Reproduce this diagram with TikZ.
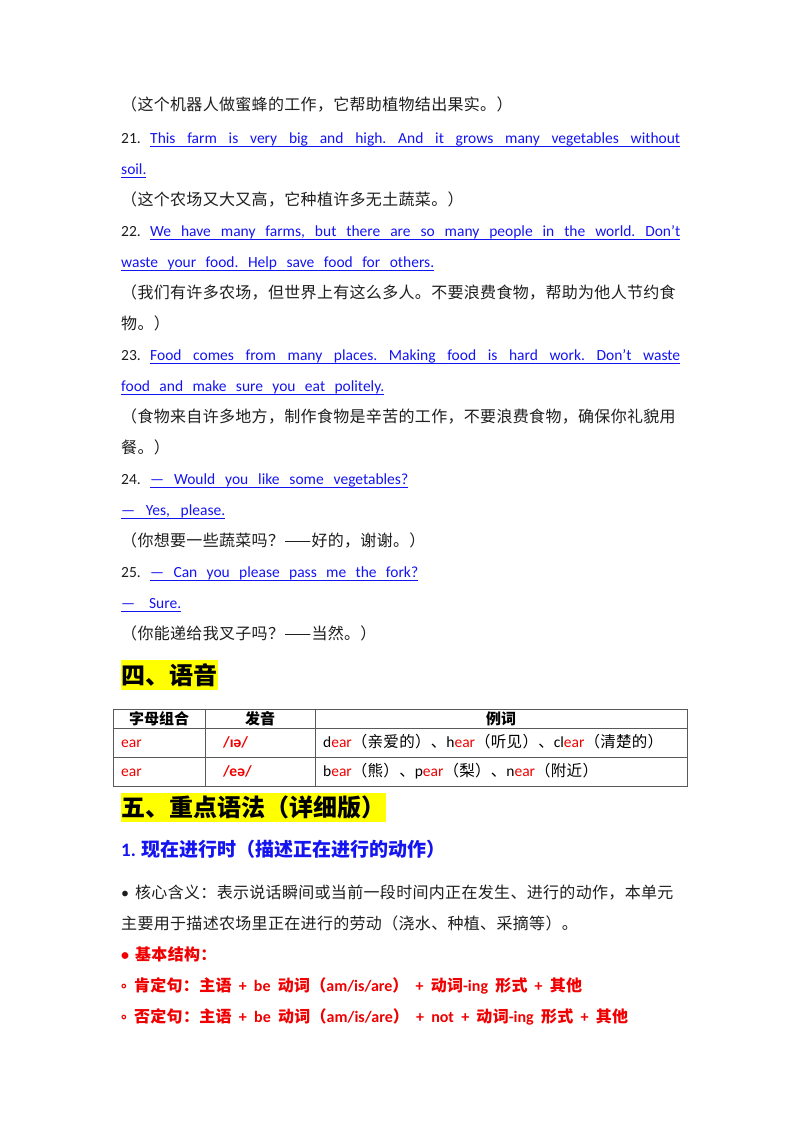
\documentclass[tikz,border=0pt]{standalone}
\usepackage{fontspec}
\setmainfont{Carlito}
\newfontfamily\cjk[LetterSpace=2]{Noto Sans CJK SC}
\newfontfamily\cjkh{Noto Sans CJK SC}
\definecolor{txt}{RGB}{30,30,30}
\definecolor{bl}{RGB}{20,20,240}
\definecolor{rd}{RGB}{240,0,0}
\definecolor{yl}{RGB}{255,255,0}
\tikzset{t/.style={anchor=base west,inner sep=0pt,text=txt,font=\fontsize{15.5}{18}\selectfont\frenchspacing},
 c/.style={t,font=\fontsize{16}{18}\selectfont\cjk},
 e/.style={t,text=bl},
 ul/.style={bl,line width=0.6pt}}
\begin{document}
\begin{tikzpicture}[x=1pt,y=-1pt]
\useasboundingbox[fill=white] (0,0) rectangle (800,1132);
\newcommand\U[3]{\draw[ul] (#1,#3+3) -- (#2,#3+3);}
\node[c] (l1) at (121,110) {（这个机器人做蜜蜂的工作，它帮助植物结出果实。）};
\node[t] (n21) at (121,143) {21.};
\node[e] (s21) at (150,143) {\makebox[530pt][s]{This farm is very big and high. And it grows many vegetables without}}; \U{150}{680}{143}
\node[e] (s21b) at (121,174) {soil.}; \U{121}{146}{174}
\node[c] (l2) at (121,205) {（这个农场又大又高，它种植许多无土蔬菜。）};
\node[t] (n22) at (121,236) {22.};
\node[e] (s22) at (150,236) {\makebox[530pt][s]{We have many farms, but there are so many people in the world. Don't}}; \U{150}{680}{236}
\node[e] (s22b) at (121,267) {\makebox[313pt][s]{waste your food. Help save food for others.}}; \U{121}{434}{267}
\node[c] (l3) at (121,298) {（我们有许多农场，但世界上有这么多人。不要浪费食物，帮助为他人节约食};
\node[c] (l3b) at (121,329) {物。）};
\node[t] (n23) at (121,360) {23.};
\node[e] (s23) at (150,360) {\makebox[530pt][s]{Food comes from many places. Making food is hard work. Don't waste}}; \U{150}{680}{360}
\node[e] (s23b) at (121,391) {\makebox[263pt][s]{food and make sure you eat politely.}}; \U{121}{384}{391}
\node[c] (l4) at (121,422) {（食物来自许多地方，制作食物是辛苦的工作，不要浪费食物，确保你礼貌用};
\node[c] (l4b) at (121,453) {餐。）};
\node[t] (n24) at (121,484) {24.};
\node[e] (s24) at (150,484) {\makebox[258pt][s]{— Would you like some vegetables?}}; \U{150}{408}{484}
\node[e] (s24b) at (121,515) {\makebox[104pt][s]{— Yes, please.}}; \U{121}{225}{515}
\node[c] (l5) at (121,546) {（你想要一些蔬菜吗？——好的，谢谢。）};
\node[t] (n25) at (121,577) {25.};
\node[e] (s25) at (150,577) {\makebox[268pt][s]{— Can you please pass me the fork?}}; \U{150}{418}{577}
\node[e] (s25b) at (121,608) {\makebox[60pt][s]{— Sure.}}; \U{121}{181}{608}
\node[c] (l6) at (121,639) {（你能递给我叉子吗？——当然。）};
% heading 4
\fill[yl] (121,660) rectangle (218,690);
\node[anchor=base west,inner sep=0pt,font=\fontsize{24}{26}\selectfont\cjkh\bfseries] (h4) at (121,684) {四、语音};
% table
\draw[line width=0.8pt,gray!70!black] (113,709) rectangle (687,786);
\draw[line width=0.8pt,gray!70!black] (113,728) -- (687,728) (113,757) -- (687,757) (205,709) -- (205,786) (315,709) -- (315,786);
\begin{scope}[every node/.style={inner sep=0pt,font=\fontsize{15}{16}\selectfont\cjkh\bfseries,anchor=base}]
\node (th1) at (159,724) {字母组合};
\node (th2) at (260,724) {发音};
\node (th3) at (501,724) {例词};
\end{scope}
\begin{scope}[every node/.style={inner sep=0pt,font=\fontsize{15.5}{16}\selectfont,anchor=base west}]
\node[text=rd] (r1a) at (121,747) {ear};
\node[text=rd,font=\fontsize{15.5}{16}\selectfont\bfseries] (r1b) at (223,747) {/ɪə/};
\node (r1c) at (323,747) {d\textcolor{rd}{ear}{\cjk（亲爱的）、}h\textcolor{rd}{ear}{\cjk（听见）、}cl\textcolor{rd}{ear}{\cjk（清楚的）}};
\node[text=rd] (r2a) at (121,776) {ear};
\node[text=rd,font=\fontsize{15.5}{16}\selectfont\bfseries] (r2b) at (223,776) {/eə/};
\node (r2c) at (323,776) {b\textcolor{rd}{ear}{\cjk（熊）、}p\textcolor{rd}{ear}{\cjk（梨）、}n\textcolor{rd}{ear}{\cjk（附近）}};
\end{scope}
% heading 5
\fill[yl] (121,793) rectangle (386,822);
\node[anchor=base west,inner sep=0pt,font=\fontsize{24}{26}\selectfont\cjkh\bfseries] (h5) at (121,816) {五、重点语法（详细版）};
\node[anchor=base west,inner sep=0pt,text=bl,font=\fontsize{19}{20}\selectfont\bfseries] (h51) at (121,856) {1. {\cjkh 现在进行时（描述正在进行的动作）}};
\node[c] (p1) at (121,898) {{\rmfamily •}\hspace{6pt}核心含义：表示说话瞬间或当前一段时间内正在发生、进行的动作，本单元};
\node[c] (p2) at (121,929) {主要用于描述农场里正在进行的劳动（浇水、种植、采摘等）。};
\begin{scope}[every node/.style={anchor=base west,inner sep=0pt,text=rd,font=\fontsize{16}{18}\selectfont\bfseries}]
\node (b1) at (121,960) {•\hspace{6pt}{\cjk 基本结构：}};
\node (b2) at (121,991) {\makebox[461pt][s]{◦ {\cjk 肯定句：主语} + be {\cjk 动词（}am/is/are{\cjk ）} + {\cjk 动词}-ing {\cjk 形式} + {\cjk 其他}}};
\node (b3) at (121,1022) {\makebox[507pt][s]{◦ {\cjk 否定句：主语} + be {\cjk 动词（}am/is/are{\cjk ）} + not + {\cjk 动词}-ing {\cjk 形式} + {\cjk 其他}}};
\end{scope}
\end{tikzpicture}
\end{document}
